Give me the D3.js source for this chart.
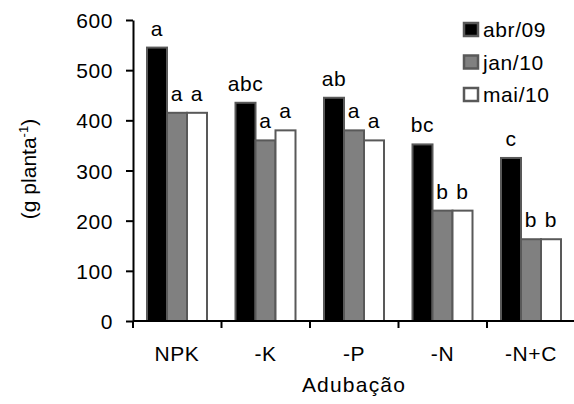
<!DOCTYPE html>
<html><head><meta charset="utf-8">
<script src="https://cdn.jsdelivr.net/npm/d3@7"></script>
<style>body{margin:0;background:#fff}svg{display:block}text{font-family:"Liberation Sans",Arial,sans-serif;fill:#000}</style>
</head><body>
<svg id="c" width="574" height="404"></svg>
<script>
const categories = ["NPK", "-K", "-P", "-N", "-N+C"];
const series = ["abr/09", "jan/10", "mai/10"];
const abr09 = [545, 435, 445, 352, 325];
const jan10 = [415, 360, 380, 220, 163];
const mai10 = [415, 380, 360, 220, 163];
const lettersAbr = ["a", "abc", "ab", "bc", "c"];
const lettersJan = ["a", "a", "a", "b", "b"];
const lettersMai = ["a", "a", "a", "b", "b"];
const yTicks = [0, 100, 200, 300, 400, 500, 600];
const colors = ["#000000", "#808080", "#ffffff"];

const values = [abr09, jan10, mai10];
const letters = [lettersAbr, lettersJan, lettersMai];

const svg = d3.select("#c");
const FS = 21;
const LS = "0.6px";
const x0 = d3.scaleBand().domain(categories).range([133, 575.5]).padding(0);
const x1 = d3.scaleBand().domain(series).range([14, 74]).padding(0);
const y = d3.scaleLinear().domain([0, 600]).range([321, 20]);

// bars
const g = svg.append("g");
categories.forEach((c, i) => {
  series.forEach((s, j) => {
    const v = values[j][i];
    g.append("rect")
      .attr("x", x0(c) + x1(s))
      .attr("y", y(v))
      .attr("width", x1.bandwidth())
      .attr("height", y(0) - y(v))
      .attr("fill", colors[j])
      .attr("stroke", "#595959")
      .attr("stroke-width", 2);
    g.append("text")
      .attr("x", x0(c) + x1(s) + x1.bandwidth() / 2)
      .attr("y", y(v) - 12)
      .attr("text-anchor", "middle")
      .attr("font-size", FS)
      .attr("letter-spacing", LS)
      .text(letters[j][i]);
  });
});

// y axis
const ya = svg.append("g").attr("transform", "translate(133,0)")
  .call(d3.axisLeft(y).tickValues(yTicks).tickSize(7).tickPadding(13).tickSizeOuter(0));
ya.select(".domain").attr("stroke", "#000").attr("stroke-width", 2);
ya.selectAll(".tick line").attr("stroke", "#000").attr("stroke-width", 2);
ya.selectAll(".tick text").attr("font-size", FS).attr("letter-spacing", LS).attr("font-family", "Liberation Sans, Arial, sans-serif").attr("fill", "#000").attr("dy", "0.36em");

// x axis
const xa = svg.append("g").attr("transform", "translate(0,321)");
xa.append("line").attr("x1", 133).attr("x2", 575.5).attr("stroke", "#000").attr("stroke-width", 2);
const bounds = categories.map(c => x0(c)).concat([x0.range()[1]]);
xa.selectAll("line.t").data(bounds).enter().append("line")
  .attr("x1", d => d).attr("x2", d => d).attr("y1", 0).attr("y2", 7)
  .attr("stroke", "#000").attr("stroke-width", 2);
xa.selectAll("text.l").data(categories).enter().append("text")
  .attr("x", d => x0(d) + 44).attr("y", 40)
  .attr("text-anchor", "middle").attr("font-size", FS).attr("letter-spacing", LS).text(d => d);

// axis titles
svg.append("text").attr("x", 354).attr("y", 392).attr("text-anchor", "middle")
  .attr("font-size", FS).attr("letter-spacing", "1.2px").text("Adubação");
const yt = svg.append("text").attr("transform", "translate(36,169) rotate(-90)")
  .attr("text-anchor", "middle").attr("font-size", FS);
yt.append("tspan").text("(g planta");
yt.append("tspan").attr("font-size", 13).attr("dy", -8).text("-1");
yt.append("tspan").attr("dy", 8).text(")");

// legend
const lg = svg.append("g").attr("transform", "translate(464,22)");
series.forEach((s, j) => {
  const row = lg.append("g").attr("transform", `translate(0,${j * 32.5})`);
  row.append("rect").attr("x", 0).attr("y", 1).attr("width", 14).attr("height", 13)
    .attr("fill", colors[j]).attr("stroke", "#595959").attr("stroke-width", 2.5);
  row.append("text").attr("x", 19).attr("y", 15).attr("font-size", FS).attr("letter-spacing", LS).text(s);
});
</script>
</body></html>
